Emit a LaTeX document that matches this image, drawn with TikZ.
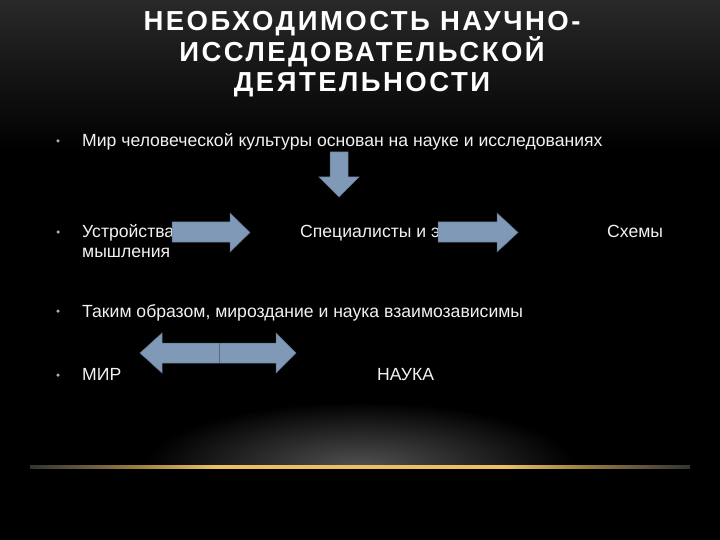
\documentclass[tikz,border=0pt]{standalone}
\usepackage{fontspec}
\setmainfont{Liberation Sans}
\newfontfamily\titlefont[LetterSpace=9]{Liberation Sans}
\usetikzlibrary{positioning}
\definecolor{arrowblue}{RGB}{127,153,183}
\definecolor{bulletc}{RGB}{185,175,145}
\definecolor{glowgold}{RGB}{235,192,100}
\definecolor{textc}{RGB}{242,242,242}
\pgfdeclarehorizontalshading{goldline}{100bp}{color(0bp)=(black!80); color(25bp)=(black!80);
  color(33bp)=(glowgold!65!black); color(39bp)=(glowgold); color(61bp)=(glowgold);
  color(67bp)=(glowgold!65!black); color(75bp)=(black!80); color(100bp)=(black!80)}

\begin{document}
\begin{tikzpicture}[x=1pt, y=-1pt,
  body/.style={text=textc, font=\fontsize{17.6}{21}\selectfont, inner sep=0pt, anchor=base west},
  blockarrow/.style={fill=arrowblue, draw=arrowblue!75!black, line width=0.5pt},
  bullet/.style={circle, fill=bulletc, inner sep=0pt, minimum size=3.5pt}]

% Background
\fill[black] (0,0) rectangle (720,540);
\shade[top color=black!84, bottom color=black] (0,0) rectangle (720,150);
\useasboundingbox (0,0) rectangle (720,540);

% Glow at the bottom
\begin{scope}
\clip (0,380) rectangle (720,467);
\shade[inner color=black!68, outer color=black] (360,467) ellipse [x radius=215pt, y radius=65pt];
\end{scope}
\shade[shading=goldline] (30,465.6) rectangle (690,468.4);

% Title
\node[text=white, font=\titlefont\bfseries\fontsize{27.5}{30}\selectfont, align=center, anchor=base] (title) at (362,92)
  {НЕОБХОДИМОСТЬ НАУЧНО-\\ИССЛЕДОВАТЕЛЬСКОЙ\\ДЕЯТЕЛЬНОСТИ};

% Bullets
\foreach \y/\n in {141/1,232/2,311/3,375/4}
  \node[bullet] (b\n) at (58,\y) {};

% Items
\node[body] (mir) at (82,147) {Мир человеческой культуры основан на науке и исследованиях};
\node[body] (ustr) at (82,237) {Устройства};
\node[body] (mysh) at ([yshift=-20pt]ustr.base west) {мышления};
\node[body] (spec) at (300,237) {Специалисты и э};
\node[body] (schem) at (607,237) {Схемы};
\node[body] (takim) at (82,317) {Таким образом, мироздание и наука взаимозависимы};
\node[body] (world) at (82,380) {МИР};
\node[body] (nauka) at (377,380) {НАУКА};

% Block arrows
\draw[blockarrow] (330,152) -- (348,152) -- (348,177) -- (359,177) -- (339,197) -- (319,177) -- (330,177) -- cycle;
\draw[blockarrow] (172,222) -- (230,222) -- (230,213) -- (250,232.5) -- (230,252) -- (230,242) -- (172,242) -- cycle;
\draw[blockarrow] (438,222) -- (497,222) -- (497,213) -- (518,232.5) -- (497,252) -- (497,242) -- (438,242) -- cycle;
\draw[blockarrow] (140,353) -- (162,333) -- (162,343) -- (276,343) -- (276,333) -- (296,353) -- (276,373) -- (276,363) -- (162,363) -- (162,373) -- cycle;
\draw[arrowblue!70!black, line width=0.6pt] (219,343) -- (219,363);

\end{tikzpicture}
\end{document}
